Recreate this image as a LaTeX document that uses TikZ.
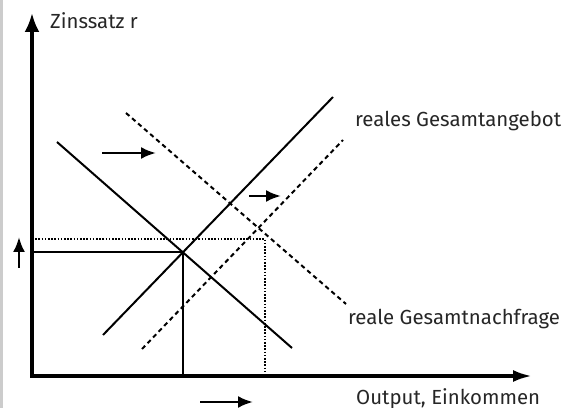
\documentclass[tikz,border=0pt]{standalone}
\usepackage{fontspec}
\setmainfont{Fira Sans}
\usetikzlibrary{arrows.meta}

\begin{document}
\begin{tikzpicture}[x=10bp,y=10bp,
    axis/.style={line width=3.5bp,{Latex[length=19bp,width=15bp]}-{Latex[length=19bp,width=12bp]}},
    curve/.style={line width=2bp},
    shifted/.style={line width=2bp,dash pattern=on 4.5bp off 3.5bp},
    guide/.style={line width=1.6bp,dash pattern=on 1.6bp off 1.6bp},
    move/.style={line width=2.5bp,-{Latex[length=15bp,width=12bp]}},
    lbl/.style={anchor=base west,inner sep=0,text=black!85,font=\fontsize{20.4bp}{24bp}\selectfont}]
\useasboundingbox (0,0) rectangle (56.8,40.8);
\draw[black!20,line width=2.5bp] (0.125,0)--(0.125,40.8);
% axes
\coordinate (O) at (3.2,3.2);
\coordinate (ytip) at (3.2,39.5);
\coordinate (xtip) at (53.2,3.2);
\draw[axis] (ytip)--(O)--(xtip);
\node[lbl] (zins) at (5.0,37.9) {Zinssatz r};
\node[lbl] (output) at (35.6,0.4) {Output, Einkommen};
% supply and demand
\coordinate (as1) at (10.3,7.3);
\coordinate (as2) at (33.3,31.1);
\coordinate (asb1) at (14.2,5.9);
\coordinate (asb2) at (34.3,26.8);
\coordinate (ad1) at (5.7,26.6);
\coordinate (ad2) at (29.2,6.0);
\coordinate (adb1) at (12.6,29.5);
\coordinate (adb2) at (34.6,10.4);
\draw[curve] (as1)--(as2);
\draw[curve] (ad1)--(ad2);
\draw[shifted] (asb1)--(asb2);
\draw[shifted] (adb1)--(adb2);
\node[lbl] (angebot) at (35.5,28.1) {reales Gesamtangebot};
\node[lbl] (nachfrage) at (34.8,8.3) {reale Gesamtnachfrage};
% equilibria
\coordinate (E) at (18.3,15.6);
\coordinate (E2) at (26.5,16.9);
\draw[curve] (O |- E)--(E)--(E |- O);
\draw[guide] (O |- E2)--(E2)--(E2 |- O);
% shifts
\coordinate (m1a) at (10.2,25.5); \coordinate (m1b) at (15.6,25.5);
\coordinate (m2a) at (24.9,21.2); \coordinate (m2b) at (28.1,21.2);
\coordinate (m3a) at (20.0,0.6);  \coordinate (m3b) at (25.3,0.6);
\coordinate (m4a) at (1.9,14.0);  \coordinate (m4b) at (1.9,17.1);
\draw[move] (m1a)--(m1b);
\draw[move] (m2a)--(m2b);
\draw[move] (m3a)--(m3b);
\draw[move] (m4a)--(m4b);
\end{tikzpicture}
\end{document}
